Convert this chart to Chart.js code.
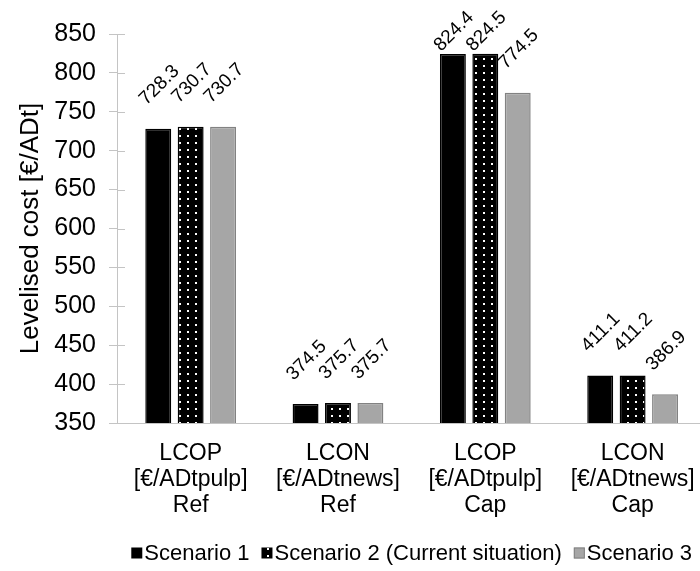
<!DOCTYPE html>
<html>
<head>
<meta charset="utf-8">
<script src="https://cdn.jsdelivr.net/npm/chart.js@4.4.1/dist/chart.umd.min.js"></script>
<style>
  html, body { margin: 0; padding: 0; overflow: hidden; background: #fff; }
  #wrap { position: relative; width: 712px; height: 571px; }
</style>
</head>
<body>
<div id="wrap"><canvas id="c"></canvas></div>
<script>
// Category labels (one line per entry)
const categories = [
  ["LCOP", "[€/ADtpulp]", "Ref"],
  ["LCON", "[€/ADtnews]", "Ref"],
  ["LCOP", "[€/ADtpulp]", "Cap"],
  ["LCON", "[€/ADtnews]", "Cap"]
];
const seriesNames = ["Scenario 1", "Scenario 2 (Current situation)", "Scenario 3"];
const scenario1 = [728.3, 374.5, 824.4, 411.1];
const scenario2 = [730.7, 375.7, 824.5, 411.2];
const scenario3 = [730.7, 375.7, 774.5, 386.9];
const yTitle = "Levelised cost [€/ADt]";
const yMin = 350, yMax = 850, yStep = 50;

const FONT = "'Liberation Sans', Arial, sans-serif";
const TEXT = "#000000";
const AXIS = "#c4c4c4";

// Black fill with a grid of small white dots
function dotPattern() {
  const t = document.createElement("canvas");
  t.width = 8; t.height = 7;
  const g = t.getContext("2d");
  g.fillStyle = "#000";
  g.fillRect(0, 0, 8, 7);
  g.fillStyle = "#ffffff";
  g.fillRect(3, 2, 2, 2);
  return document.getElementById("c").getContext("2d").createPattern(t, "repeat");
}
const dots = dotPattern();

const fills = ["#000000", dots, "#a6a6a6"];
const borders = ["#000000", "#000000", "#828282"];
const values = [scenario1, scenario2, scenario3];

// Rotated value labels above each bar, kept inside the canvas at the top
const valueLabels = {
  id: "valueLabels",
  afterDatasetsDraw(chart) {
    const ctx = chart.ctx;
    ctx.save();
    ctx.font = "19px " + FONT;
    ctx.fillStyle = TEXT;
    ctx.textAlign = "left";
    ctx.textBaseline = "alphabetic";
    chart.data.datasets.forEach((ds, di) => {
      const meta = chart.getDatasetMeta(di);
      meta.data.forEach((bar, i) => {
        const txt = ds.data[i].toFixed(1);
        const x = bar.x - 12;
        const y = Math.max(bar.y - 23, 52);
        ctx.save();
        ctx.translate(x, y);
        ctx.rotate(-Math.PI / 4);
        ctx.fillText(txt, 0, 0);
        ctx.restore();
      });
    });
    ctx.restore();
  }
};

// Inner half of the cross tick marks on the value axis, plus legend row
const extras = {
  id: "extras",
  afterDraw(chart) {
    const ctx = chart.ctx;
    const ys = chart.scales.y;
    ctx.save();
    ctx.strokeStyle = AXIS;
    ctx.lineWidth = 1;
    ys.ticks.forEach(t => {
      const py = Math.round(ys.getPixelForValue(t.value)) + 0.5;
      ctx.beginPath();
      ctx.moveTo(ys.right, py);
      ctx.lineTo(ys.right + 8, py);
      ctx.stroke();
    });

    // legend
    ctx.font = "22px " + FONT;
    ctx.textBaseline = "middle";
    ctx.textAlign = "left";
    const box = 11, gap = 2, spacing = 12;
    const widths = seriesNames.map(n => ctx.measureText(n).width);
    const total = widths.reduce((a, w) => a + box + gap + w, 0) + spacing * (seriesNames.length - 1);
    const cx = (chart.chartArea.left + chart.chartArea.right) / 2;
    let x = cx - total / 2;
    const cy = 553;
    seriesNames.forEach((n, i) => {
      ctx.fillStyle = fills[i];
      ctx.fillRect(x, cy - box / 2, box, box);
      if (i === 2) {
        ctx.strokeStyle = borders[i];
        ctx.strokeRect(x + 0.5, cy - box / 2 + 0.5, box - 1, box - 1);
      }
      ctx.fillStyle = TEXT;
      ctx.fillText(n, x + box + gap, cy + 1);
      x += box + gap + widths[i] + spacing;
    });
    ctx.restore();
  }
};

new Chart(document.getElementById("c"), {
  type: "bar",
  data: {
    labels: categories,
    datasets: seriesNames.map((n, i) => ({
      label: n,
      data: values[i],
      backgroundColor: fills[i],
      borderColor: borders[i],
      borderWidth: 1.5,
      categoryPercentage: 0.66,
      barPercentage: 0.8
    }))
  },
  options: {
    responsive: true,
    maintainAspectRatio: false,
    animation: false,
    layout: { padding: { top: 34, right: 3, bottom: 48, left: 0 } },
    plugins: {
      legend: { display: false },
      tooltip: { enabled: false }
    },
    scales: {
      x: {
        grid: { display: false, drawTicks: false },
        border: { display: true, color: AXIS, width: 1 },
        ticks: { color: TEXT, font: { family: FONT, size: 23, lineHeight: 1.15 }, padding: 17, maxRotation: 0, autoSkip: false },
        afterFit(s) { s.height = 100; }
      },
      y: {
        min: yMin,
        max: yMax,
        grid: { display: true, drawOnChartArea: false, drawTicks: true, tickLength: 8, color: AXIS },
        border: { display: true, color: AXIS, width: 1 },
        ticks: { stepSize: yStep, color: TEXT, font: { family: FONT, size: 25 }, padding: 13 },
        title: { display: true, text: yTitle, color: TEXT, font: { family: FONT, size: 26 }, padding: { top: 15, bottom: 0 } },
        afterFit(s) { s.width = 117; }
      }
    }
  },
  plugins: [valueLabels, extras]
});
</script>
</body>
</html>
